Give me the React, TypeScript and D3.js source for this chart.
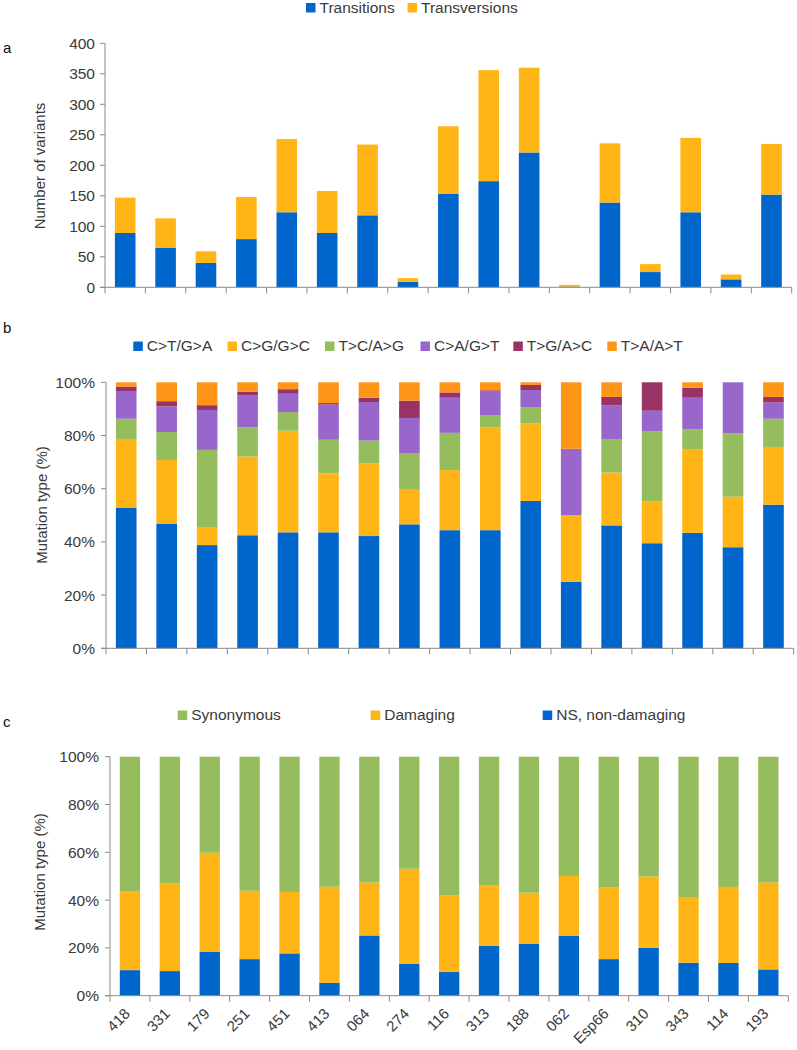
import React from "react";
import * as d3 from "d3";

// ---------- DATA ----------
const samples = ["418", "331", "179", "251", "451", "413", "064", "274", "116", "313", "188", "062", "Esp66", "310", "343", "114", "193"];

// Panel a: number of variants
const transitions = [89, 65, 40, 79, 123, 89, 118, 9, 153, 174, 221, 1, 139, 25, 123, 13, 152];
const transversions = [58, 48, 19, 69, 120, 69, 116, 6, 111, 182, 139, 3, 97, 13, 122, 8, 83];
const countTicks = [0, 50, 100, 150, 200, 250, 300, 350, 400];

// Panel b: mutation type (%)
const ctga = [52.9, 46.9, 38.8, 42.5, 43.6, 43.6, 42.2, 46.6, 44.4, 44.4, 55.4, 25, 46.2, 39.5, 43.4, 38, 54];
const cggc = [25.8, 23.9, 6.8, 29.6, 38.2, 22.2, 27.3, 13.3, 22.6, 38.7, 29.2, 25, 19.9, 15.8, 31.5, 19, 21.7];
const tcag = [7.6, 10.5, 29.0, 11.0, 7.0, 12.6, 8.6, 13.3, 14.0, 4.6, 6.1, 0, 12.6, 26.2, 7.4, 23.8, 10.6];
const cagt = [10.2, 9.7, 15.0, 12.1, 6.9, 13.2, 14.5, 13.4, 13.2, 8.8, 6.4, 25, 12.7, 7.8, 11.9, 19.2, 6.1];
const tgac = [1.9, 1.9, 1.8, 1.2, 1.7, 0.6, 1.6, 6.5, 2.0, 0.5, 1.9, 0, 3.1, 10.7, 3.7, 0, 2.1];
const taat = [1.6, 7.1, 8.6, 3.6, 2.6, 7.8, 5.8, 6.9, 3.8, 3.0, 1.0, 25, 5.5, 0, 2.1, 0, 5.5];

// Panel c: functional class (%)
const nsNonDamaging = [10.7, 10.3, 18.3, 15.3, 17.7, 5.4, 25.2, 13.4, 9.9, 20.8, 21.8, 25.1, 15.3, 20.1, 13.8, 13.7, 11.0];
const damaging = [32.8, 36.6, 41.5, 28.6, 25.7, 40.2, 22.2, 39.7, 32.2, 25.5, 21.3, 25.0, 29.9, 29.8, 27.2, 31.8, 36.4];
const synonymous = [56.5, 53.1, 40.2, 56.1, 56.6, 54.4, 52.6, 46.9, 57.9, 53.7, 56.9, 49.9, 54.8, 50.1, 59.0, 54.5, 52.6];
const pctTicks = [0, 20, 40, 60, 80, 100];

// ---------- STYLE ----------
const BLUE = "#0066CC";
const GOLD = "#FFB515";
const GREEN = "#95BD5E";
const PURPLE = "#9966CC";
const MAROON = "#993366";
const ORANGE = "#FF9517";
const AXIS = "#8a8a8a";
const TXT = "#3a3a3a";
const FONT = "'Liberation Sans', Arial, Helvetica, sans-serif";

type Series = { key: string; values: number[]; color: string };
type LegendItem = { label: string; color: string; x: number };

type PanelProps = {
  series: Series[];
  x0: number;
  x1: number;
  yBottom: number;
  yTop: number;
  yMax: number;
  ticks: number[];
  tickFmt: (v: number) => string;
  labelEnd: number;
  title: string;
  titleX: number;
  titleY: number;
  legend: LegendItem[];
  legendY: number;
  letter: string;
  letterY: number;
  showLabels?: boolean;
};

function Panel(p: PanelProps) {
  const x = d3.scaleBand<string>().domain(samples).range([p.x0, p.x1]).paddingInner(0.49).paddingOuter(0.245);
  const y = d3.scaleLinear().domain([0, p.yMax]).range([p.yBottom, p.yTop]);
  const rows = samples.map((s, i) => {
    const r: any = { sample: s };
    p.series.forEach((se) => (r[se.key] = se.values[i]));
    return r;
  });
  const stack = d3.stack<any>().keys(p.series.map((s) => s.key))(rows);
  const step = x.step();
  const boundaries = d3.range(samples.length + 1).map((i) => p.x0 + i * step);

  return (
    <g>
      <text x={3} y={p.letterY} fontSize={15} fill="#111" fontFamily={FONT}>{p.letter}</text>
      {p.legend.map((l) => (
        <g key={l.label}>
          <rect x={l.x} y={p.legendY - 9.5} width={9.5} height={9.5} fill={l.color} />
          <text x={l.x + 13.5} y={p.legendY} fontSize={15.5} fill={TXT} fontFamily={FONT}>{l.label}</text>
        </g>
      ))}
      {stack.map((layer, li) => (
        <g key={p.series[li].key} fill={p.series[li].color}>
          {layer.map((d, i) => (
            d[1] - d[0] > 0 ? (
              <rect key={i} x={x(samples[i])} width={x.bandwidth()} y={y(d[1])} height={y(d[0]) - y(d[1])} />
            ) : null
          ))}
        </g>
      ))}
      {/* y axis */}
      <line x1={p.x0} x2={p.x0} y1={p.yTop} y2={p.yBottom} stroke={AXIS} strokeWidth={1} />
      {p.ticks.map((t) => (
        <g key={t}>
          <line x1={p.x0 - 5} x2={p.x0} y1={y(t)} y2={y(t)} stroke={AXIS} />
          <text x={p.labelEnd} y={y(t)} dy="0.36em" textAnchor="end" fontSize={15.5} fill={TXT} fontFamily={FONT}>{p.tickFmt(t)}</text>
        </g>
      ))}
      {/* x axis */}
      <line x1={p.x0 - 5} x2={p.x1} y1={p.yBottom} y2={p.yBottom} stroke={AXIS} />
      {boundaries.map((b, i) => (
        <line key={i} x1={b} x2={b} y1={p.yBottom} y2={p.yBottom + 6} stroke={AXIS} />
      ))}
      {p.showLabels && samples.map((s) => {
        const cx = (x(s) as number) + x.bandwidth() / 2;
        return (
          <text key={s} transform={`translate(${cx + 1},${p.yBottom + 19}) rotate(-45)`} textAnchor="end" fontSize={15} fill={TXT} fontFamily={FONT}>{s}</text>
        );
      })}
      <text transform={`translate(${p.titleX},${p.titleY}) rotate(-90)`} textAnchor="middle" fontSize={15} fill={TXT} fontFamily={FONT}>{p.title}</text>
    </g>
  );
}

export default function App() {
  const pctFmt = (v: number) => `${v}%`;
  return (
    <svg width={797} height={1050} style={{ position: "absolute", left: 0, top: 0, background: "#fff" }} xmlns="http://www.w3.org/2000/svg">
      <rect width={797} height={1050} fill="#fff" />
      <Panel
        series={[
          { key: "Transitions", values: transitions, color: BLUE },
          { key: "Transversions", values: transversions, color: GOLD },
        ]}
        x0={105} x1={791.7} yBottom={287.3} yTop={43.3} yMax={400}
        ticks={countTicks} tickFmt={(v) => `${v}`} labelEnd={95}
        title="Number of variants" titleX={45} titleY={166}
        legend={[
          { label: "Transitions", color: BLUE, x: 306 },
          { label: "Transversions", color: GOLD, x: 407.5 },
        ]}
        legendY={12.5} letter="a" letterY={53}
      />
      <Panel
        series={[
          { key: "C>T/G>A", values: ctga, color: BLUE },
          { key: "C>G/G>C", values: cggc, color: GOLD },
          { key: "T>C/A>G", values: tcag, color: GREEN },
          { key: "C>A/G>T", values: cagt, color: PURPLE },
          { key: "T>G/A>C", values: tgac, color: MAROON },
          { key: "T>A/A>T", values: taat, color: ORANGE },
        ]}
        x0={106} x1={793.7} yBottom={648.3} yTop={382.3} yMax={100}
        ticks={pctTicks} tickFmt={pctFmt} labelEnd={95}
        title="Mutation type (%)" titleX={47} titleY={505}
        legend={[
          { label: "C>T/G>A", color: BLUE, x: 133.3 },
          { label: "C>G/G>C", color: GOLD, x: 227.5 },
          { label: "T>C/A>G", color: GREEN, x: 325 },
          { label: "C>A/G>T", color: PURPLE, x: 420.5 },
          { label: "T>G/A>C", color: MAROON, x: 513.3 },
          { label: "T>A/A>T", color: ORANGE, x: 607.3 },
        ]}
        legendY={351} letter="b" letterY={333}
      />
      <Panel
        series={[
          { key: "NS, non-damaging", values: nsNonDamaging, color: BLUE },
          { key: "Damaging", values: damaging, color: GOLD },
          { key: "Synonymous", values: synonymous, color: GREEN },
        ]}
        x0={110} x1={788.3} yBottom={995.7} yTop={756.7} yMax={100}
        ticks={pctTicks} tickFmt={pctFmt} labelEnd={99}
        title="Mutation type (%)" titleX={45} titleY={872}
        legend={[
          { label: "Synonymous", color: GREEN, x: 177.7 },
          { label: "Damaging", color: GOLD, x: 370.7 },
          { label: "NS, non-damaging", color: BLUE, x: 542.7 },
        ]}
        legendY={720} letter="c" letterY={727}
        showLabels
      />
    </svg>
  );
}
